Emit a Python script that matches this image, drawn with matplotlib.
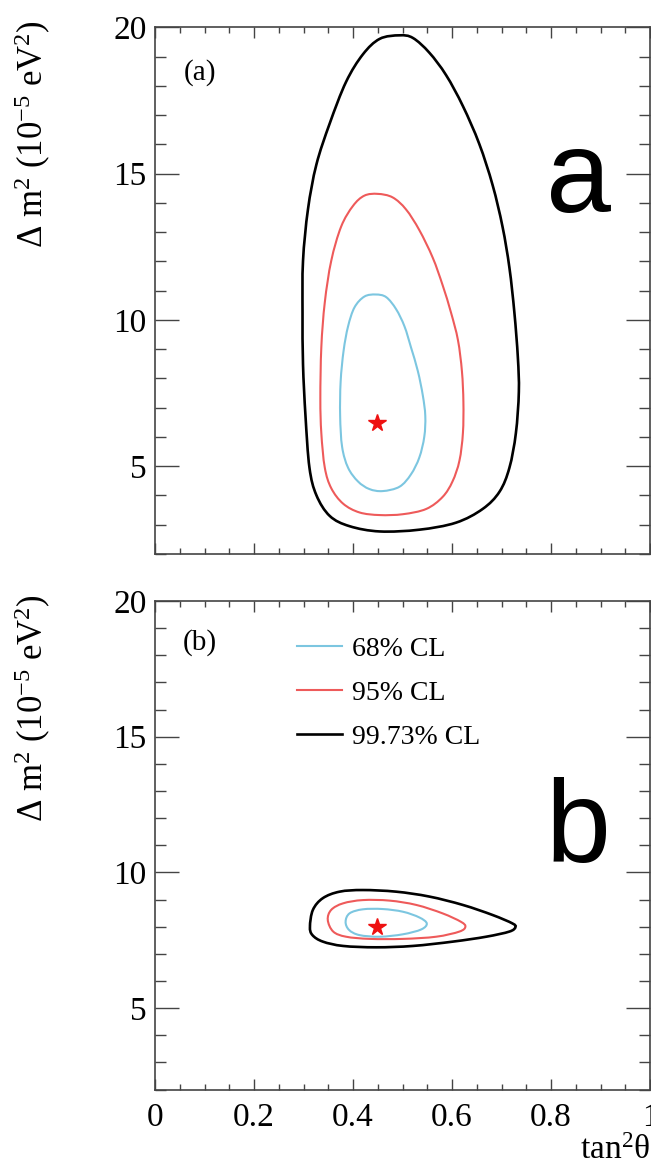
import numpy as np
import matplotlib
matplotlib.use("Agg")
import matplotlib.pyplot as plt
from matplotlib.path import Path
from matplotlib.patches import PathPatch
from matplotlib.lines import Line2D
from matplotlib.ticker import MultipleLocator

plt.rcParams['font.family'] = ['Liberation Serif', 'DejaVu Serif']
plt.rcParams['mathtext.fontset'] = 'custom'
plt.rcParams['mathtext.rm'] = 'Liberation Serif'
plt.rcParams['mathtext.it'] = 'Liberation Serif:italic'

# --- data ------------------------------------------------------------------
cl_labels = ['68% CL', '95% CL', '99.73% CL']
cl_colors = ['#7cc6e0', '#ee5a5a', '#000000']
cl_widths = [1.5, 1.5, 1.9]

# panel (a): contour outlines (tan^2 theta, dm^2 in 1e-5 eV^2)
a68_x = [0.446, 0.467, 0.487, 0.504, 0.517, 0.531, 0.541, 0.546, 0.544, 0.534,
         0.517, 0.494, 0.460, 0.433, 0.410, 0.390, 0.378, 0.374, 0.375, 0.381,
         0.390, 0.403, 0.423]
a68_y = [10.87, 10.78, 10.37, 9.78, 9.07, 8.25, 7.42, 6.72, 6.01, 5.30,
         4.72, 4.30, 4.15, 4.22, 4.48, 4.95, 5.66, 6.72, 7.89, 8.95,
         9.78, 10.43, 10.80]

a95_x = [0.450, 0.480, 0.507, 0.534, 0.561, 0.581, 0.598, 0.612, 0.620, 0.623,
         0.622, 0.615, 0.601, 0.581, 0.548, 0.501, 0.454, 0.413, 0.380, 0.356,
         0.343, 0.336, 0.334, 0.336, 0.343, 0.356, 0.376, 0.400, 0.423]
a95_y = [14.31, 14.19, 13.78, 13.07, 12.13, 11.19, 10.25, 9.31, 8.25, 7.19,
         6.13, 5.19, 4.48, 3.95, 3.54, 3.36, 3.33, 3.42, 3.72, 4.25,
         4.95, 6.13, 7.31, 9.07, 10.60, 12.02, 13.19, 13.90, 14.25]

a99_x = [0.494, 0.521, 0.554, 0.588, 0.622, 0.655, 0.682, 0.702, 0.716, 0.726,
         0.733, 0.735, 0.729, 0.716, 0.696, 0.662, 0.608, 0.534, 0.454, 0.393,
         0.353, 0.326, 0.312, 0.304, 0.299, 0.298, 0.299, 0.309, 0.326, 0.353,
         0.386, 0.420, 0.454]
a99_y = [19.73, 19.64, 19.14, 18.37, 17.31, 16.02, 14.61, 13.19, 11.78, 10.25,
         8.72, 7.54, 6.13, 4.95, 4.13, 3.54, 3.07, 2.83, 2.77, 2.95,
         3.30, 4.01, 4.95, 6.72, 8.48, 10.25, 12.02, 13.78, 15.31, 16.72,
         18.14, 19.08, 19.61]

a_best = (0.448, 6.48)

# panel (b)
b68_x = [0.385, 0.393, 0.420, 0.460, 0.501, 0.534, 0.549, 0.538, 0.501, 0.454,
         0.413, 0.392]
b68_y = [8.18, 8.49, 8.64, 8.65, 8.55, 8.34, 8.12, 7.90, 7.72, 7.63,
         7.69, 7.88]

b95_x = [0.349, 0.356, 0.380, 0.420, 0.474, 0.528, 0.581, 0.618, 0.627, 0.615,
         0.568, 0.501, 0.434, 0.386, 0.360]
b95_y = [8.25, 8.62, 8.86, 8.98, 8.96, 8.80, 8.49, 8.18, 8.00, 7.82,
         7.63, 7.55, 7.55, 7.63, 7.82]

b99_x = [0.313, 0.319, 0.339, 0.373, 0.420, 0.487, 0.554, 0.622, 0.682, 0.722,
         0.728, 0.716, 0.669, 0.602, 0.521, 0.447, 0.380, 0.339, 0.318]
b99_y = [8.00, 8.62, 9.05, 9.29, 9.35, 9.29, 9.11, 8.80, 8.43, 8.12,
         7.98, 7.82, 7.63, 7.45, 7.29, 7.24, 7.29, 7.45, 7.69]

b_best = (0.448, 8.00)

x_range = (0, 1)
y_range = (2, 20)


def closed_curve(xs, ys):
    # closed Catmull-Rom curve drawn as cubic Bezier segments
    pts = np.column_stack([xs, ys])
    n = len(pts)
    verts = [pts[0]]
    codes = [Path.MOVETO]
    for i in range(n):
        p0, p1, p2, p3 = pts[i - 1], pts[i], pts[(i + 1) % n], pts[(i + 2) % n]
        verts += [p1 + (p2 - p0) / 6.0, p2 - (p3 - p1) / 6.0, p2]
        codes += [Path.CURVE4] * 3
    return Path(verts, codes)


def style_axes(ax, show_xlabels):
    ax.set_xlim(*x_range)
    ax.set_ylim(*y_range)
    ax.xaxis.set_major_locator(MultipleLocator(0.2))
    ax.xaxis.set_minor_locator(MultipleLocator(0.05))
    ax.yaxis.set_major_locator(MultipleLocator(5))
    ax.yaxis.set_minor_locator(MultipleLocator(1))
    ax.tick_params(which='both', direction='in', top=True, right=True,
                   color='#444444', width=1.0, labelsize=24)
    ax.tick_params(axis='x', which='major', length=8, pad=9)
    ax.tick_params(axis='x', which='minor', length=4)
    ax.tick_params(axis='y', which='major', length=17, pad=6)
    ax.tick_params(axis='y', which='minor', length=8)
    ax.set_yticks([5, 10, 15, 20])
    ax.set_yticklabels(['5', '10', '15', '20'])
    if show_xlabels:
        ax.set_xticks([0, 0.2, 0.4, 0.6, 0.8, 1.0])
        ax.set_xticklabels(['0', '0.2', '0.4', '0.6', '0.8', '1'])
    else:
        ax.tick_params(axis='x', labelbottom=False)
    for sp in ax.spines.values():
        sp.set_color('#444444')
        sp.set_linewidth(1.2)
    ax.set_ylabel('Δ m$^{2}$ (10$^{-5}$ eV$^{2}$)', fontsize=25, loc='top')
    ax.yaxis.set_label_coords(-0.206, 1.014)


fig = plt.figure(figsize=(6.51, 11.67), dpi=100)
ax_a = fig.add_axes([0.2381, 0.5253, 0.7604, 0.4512])
ax_b = fig.add_axes([0.2381, 0.0664, 0.7604, 0.4186])

panels = [
    (ax_a, [(a68_x, a68_y), (a95_x, a95_y), (a99_x, a99_y)], a_best, '(a)', 'a', 0.650),
    (ax_b, [(b68_x, b68_y), (b95_x, b95_y), (b99_x, b99_y)], b_best, '(b)', 'b', 0.466),
]

for ax, curves, best, tag, big, big_y in panels:
    for (xs, ys), col, lw in zip(curves, cl_colors, cl_widths):
        ax.add_patch(PathPatch(closed_curve(xs, ys), fill=False,
                               edgecolor=col, linewidth=lw, zorder=3))
    ax.plot([best[0]], [best[1]], marker='*', color='#ee1111',
            markersize=13, linestyle='none', zorder=4)
    ax.text(0.091, 0.915, tag, transform=ax.transAxes, fontsize=21,
            ha='center', va='center')
    ax.text(0.855, big_y, big, transform=ax.transAxes, fontsize=84,
            family='Liberation Sans', ha='center', va='baseline')

style_axes(ax_a, False)
style_axes(ax_b, True)

ax_b.set_xlabel('tan$^{2}$θ', fontsize=24, loc='right', labelpad=2)

handles = [Line2D([], [], color=c, linewidth=w) for c, w in zip(cl_colors, cl_widths)]
ax_b.legend(handles, cl_labels, loc='upper left', bbox_to_anchor=(0.287, 0.928),
            frameon=False, fontsize=20, borderpad=0, borderaxespad=0,
            handlelength=1.6, handletextpad=0.36, labelspacing=0.67)

fig.savefig('out.png', dpi=100)
